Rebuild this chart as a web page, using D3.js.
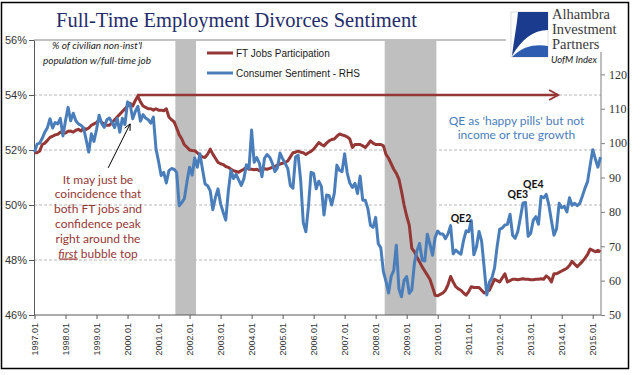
<!DOCTYPE html>
<html>
<head>
<meta charset="utf-8">
<script src="https://cdn.jsdelivr.net/npm/d3@7"></script>
<style>
  body { margin: 0; background: #fff; }
  svg { display: block; }
</style>
</head>
<body>
<div id="chart"></div>
<script>
const w = 641
const h = 375

// monthly, Jan 1997 .. Apr 2015
const startYear = 1997
const ftJobs = [
  51.9, 51.9, 51.96, 52.2, 52.25, 52.35, 52.46, 52.5, 52.55, 52.57, 52.65, 52.6,
  52.62, 52.68, 52.69, 52.65, 52.72, 52.75, 52.69, 52.8, 52.75, 52.8, 52.9, 52.95,
  53.0, 53.1, 53.0, 52.95, 52.9, 52.9, 53.0, 53.1, 53.2, 53.3, 53.4, 53.5,
  53.6, 53.7, 53.6, 53.8, 53.96, 53.75, 53.6, 53.55, 53.5, 53.5, 53.45, 53.5,
  53.45, 53.45, 53.43, 53.5, 53.2, 53.1, 53.03, 52.8, 52.55, 52.4, 52.19, 52.1,
  52.0, 51.98, 51.97, 51.9, 51.8, 51.75, 51.73, 51.85, 52.03, 51.85, 51.7, 51.55,
  51.5, 51.47, 51.4, 51.37, 51.3, 51.25, 51.22, 51.19, 51.25, 51.3, 51.37, 51.3,
  51.3, 51.28, 51.3, 51.25, 51.28, 51.32, 51.3, 51.33, 51.37, 51.4, 51.45, 51.49,
  51.52, 51.55, 51.6, 51.75, 51.9, 51.92, 51.96, 51.92, 51.9, 51.84, 51.9, 51.95,
  52.03, 52.15, 52.27, 52.2, 52.15, 52.25, 52.33, 52.38, 52.4, 52.5, 52.58, 52.55,
  52.52, 52.48, 52.4, 52.09, 52.2, 52.2, 52.2, 52.15, 52.09, 52.2, 52.33, 52.25,
  52.2, 52.2, 52.2, 52.15, 51.84, 51.7, 51.5, 51.3, 51.15, 50.94, 50.5, 50.0,
  49.6, 49.27, 48.42, 48.3, 48.1, 47.93, 47.75, 47.6, 47.45, 47.3, 47.02, 46.72,
  46.7, 46.75, 46.8, 46.9, 47.1, 47.4, 47.2, 47.03, 46.95, 46.9, 46.8, 46.72,
  46.85, 47.03, 47.0, 47.0, 47.0, 46.9, 46.8, 46.85, 46.9, 47.1, 47.3, 47.25,
  47.2, 47.35, 47.5, 47.2, 47.25, 47.3, 47.3, 47.28, 47.3, 47.32, 47.3, 47.3,
  47.28, 47.28, 47.3, 47.3, 47.32, 47.3, 47.42, 47.35, 47.2, 47.5, 47.5, 47.55,
  47.6, 47.65, 47.7, 47.8, 47.95, 47.85, 47.76, 47.85, 47.95, 48.07, 48.2, 48.4,
  48.35, 48.3, 48.35, 48.3
]
const sentiment = [
  97.4, 99.7, 100.0, 101.4, 103.2, 104.5, 107.1, 104.4, 106.0, 105.6, 107.2, 102.1,
  106.6, 110.4, 106.5, 108.7, 106.5, 105.6, 105.2, 104.4, 100.9, 97.4, 102.7, 100.5,
  103.9, 108.1, 105.7, 104.6, 106.8, 107.3, 106.0, 104.5, 107.2, 103.2, 107.2, 105.4,
  112.0, 111.3, 107.1, 109.2, 110.7, 106.4, 108.3, 107.3, 106.8, 105.8, 107.6, 98.4,
  94.7, 90.6, 91.5, 88.4, 92.0, 92.6, 92.4, 91.5, 81.8, 82.7, 83.9, 88.8,
  93.0, 90.7, 95.7, 93.0, 96.9, 92.4, 88.1, 87.6, 86.1, 80.6, 84.2, 86.7,
  82.4, 79.9, 77.6, 86.0, 92.1, 89.7, 90.9, 89.3, 87.7, 89.6, 93.7, 92.6,
  103.8, 94.4, 95.8, 94.2, 90.2, 95.6, 96.7, 95.9, 94.2, 91.7, 92.8, 97.1,
  95.5, 94.1, 92.6, 87.7, 86.9, 96.0, 96.5, 89.1, 76.9, 74.2, 81.6, 91.5,
  91.2, 86.7, 88.9, 87.4, 79.1, 84.9, 84.7, 82.0, 85.4, 93.6, 92.1, 91.7,
  96.9, 91.3, 88.4, 87.1, 88.3, 85.3, 90.4, 83.4, 83.4, 80.9, 76.1, 75.5,
  78.4, 70.8, 69.5, 62.6, 59.8, 56.4, 61.2, 63.0, 70.3, 57.6, 55.3, 60.1,
  61.2, 56.3, 57.3, 65.1, 68.7, 70.8, 66.0, 65.7, 73.5, 70.6, 67.4, 72.5,
  74.4, 73.6, 73.6, 72.2, 73.6, 76.0, 67.8, 68.9, 68.2, 67.7, 71.6, 74.5,
  74.2, 77.5, 67.5, 69.8, 74.3, 71.5, 63.7, 55.8, 59.5, 60.8, 63.7, 69.9,
  75.0, 75.3, 76.2, 76.4, 79.3, 73.2, 72.3, 74.3, 78.3, 82.6, 82.7, 72.9,
  73.8, 77.6, 78.6, 76.4, 84.5, 84.1, 85.1, 82.1, 77.5, 73.2, 75.1, 82.5,
  81.2, 81.6, 80.0, 84.1, 81.9, 82.5, 81.8, 82.5, 84.6, 86.9, 88.8, 93.6,
  98.1, 95.4, 93.0, 95.9
]
const xTicks = ['1997.01', '1998.01', '1999.01', '2000.01', '2001.01', '2002.01', '2003.01',
  '2004.01', '2005.01', '2006.01', '2007.01', '2008.01', '2009.01', '2010.01', '2011.01',
  '2012.01', '2013.01', '2014.01', '2015.01']
const leftTicks = [46, 48, 50, 52, 54, 56]
const rightTicks = [50, 60, 70, 80, 90, 100, 110, 120]
const recessions = [['2001.07', '2002.03'], ['2008.04', '2009.12']]
const qeLabels = [['QE2', '2010.10', 77.2], ['QE3', '2012.08', 84.1], ['QE4', '2013.02', 87.0]]

const red = '#953735'
const blue = '#4a7ebb'

function monthIndex(s) {
  const p = s.split('.')
  return (+p[0] - startYear) * 12 + (+p[1] - 1)
}

const svg = d3.select('#chart')
  .append('svg')
  .attr('width', w)
  .attr('height', h)

svg.append('rect').attr('width', w).attr('height', h).attr('fill', '#fff')

const xScale = d3.scaleLinear().domain([0, sentiment.length - 1]).range([34.5, 600.5])
const yLeft = d3.scaleLinear().domain([46, 56]).range([315, 40])
const yRight = d3.scaleLinear().domain([50, 130]).range([315, 40])

// gridlines
svg.append('g')
  .selectAll('line')
  .data(leftTicks.filter(d => d > 46 && d < 56))
  .enter()
  .append('line')
  .attr('x1', 34).attr('x2', 601)
  .attr('y1', d => yLeft(d)).attr('y2', d => yLeft(d))
  .attr('stroke', '#a6a6a6')
  .attr('stroke-dasharray', '3,2')
  .attr('stroke-width', 0.8)

svg.append('line')
  .attr('x1', 34).attr('x2', 601)
  .attr('y1', yLeft(56)).attr('y2', yLeft(56))
  .attr('stroke', '#868686')

// recession shading
svg.append('g')
  .selectAll('rect')
  .data(recessions)
  .enter()
  .append('rect')
  .attr('x', d => xScale(monthIndex(d[0]) + 0.5))
  .attr('width', d => xScale(monthIndex(d[1]) + 0.5) - xScale(monthIndex(d[0]) + 0.5))
  .attr('y', yLeft(56))
  .attr('height', yLeft(46) - yLeft(56))
  .attr('fill', '#bfbfbf')

// axes
const xAxis = d3.axisBottom(xScale)
  .tickValues(xTicks.map(monthIndex))
  .tickFormat((d, i) => xTicks[i])
  .tickSize(4)
  .tickSizeOuter(0)

const gx = svg.append('g')
  .attr('transform', 'translate(0,' + yLeft(46) + ')')
  .call(xAxis)
gx.select('.domain').attr('stroke', '#595959').attr('d', 'M34,0H601')
gx.selectAll('.tick line').attr('stroke', '#595959')
gx.selectAll('.tick text')
  .attr('transform', 'rotate(-90)')
  .attr('x', -8).attr('y', 0).attr('dy', '0.33em')
  .style('text-anchor', 'end')
  .style('font-family', 'Liberation Sans, Arial, sans-serif')
  .style('font-size', '9px')
  .attr('fill', '#333')

const yAxisL = d3.axisLeft(yLeft)
  .tickValues(leftTicks)
  .tickFormat(d => d + '%')
  .tickSize(5)
  .tickSizeOuter(0)
const gl = svg.append('g')
  .attr('transform', 'translate(34,0)')
  .call(yAxisL)
gl.select('.domain').attr('stroke', '#595959')
gl.selectAll('.tick line').attr('stroke', '#595959')
gl.selectAll('.tick text')
  .attr('x', -7)
  .style('font-family', 'Liberation Sans, Arial, sans-serif')
  .style('font-size', '11px')
  .attr('fill', '#333')

const yAxisR = d3.axisRight(yRight)
  .tickValues(rightTicks)
  .tickSize(4)
  .tickSizeOuter(0)
const gr = svg.append('g')
  .attr('transform', 'translate(601,0)')
  .call(yAxisR)
gr.select('.domain').attr('stroke', '#7f7f7f').attr('d', 'M0,52V315')
gr.selectAll('.tick line').attr('stroke', '#7f7f7f')
gr.selectAll('.tick text')
  .attr('x', 8)
  .style('font-family', 'Liberation Serif, Times New Roman, serif')
  .style('font-size', '12px')
  .attr('fill', '#333')

// series
const ftLine = d3.line().x((d, i) => xScale(i)).y(d => yLeft(d))
const csLine = d3.line().x((d, i) => xScale(i)).y(d => yRight(d))

svg.append('path')
  .datum(ftJobs)
  .attr('d', ftLine)
  .attr('fill', 'none')
  .attr('stroke', red)
  .attr('stroke-width', 3)
  .attr('stroke-linejoin', 'round')

svg.append('path')
  .datum(sentiment)
  .attr('d', csLine)
  .attr('fill', 'none')
  .attr('stroke', blue)
  .attr('stroke-width', 3)
  .attr('stroke-linejoin', 'round')

// peak arrow
const ay = yLeft(54)
const ax1 = xScale(39.7)
const ax2 = xScale(202.6)
svg.append('line')
  .attr('x1', ax1).attr('x2', ax2)
  .attr('y1', ay).attr('y2', ay)
  .attr('stroke', red).attr('stroke-width', 2.5)
svg.append('path')
  .attr('d', 'M' + (ax2 - 9) + ',' + (ay - 5) + 'L' + ax2 + ',' + ay + 'L' + (ax2 - 9) + ',' + (ay + 5))
  .attr('fill', 'none').attr('stroke', red).attr('stroke-width', 2)

// black pointer arrow
const px1 = xScale(28.5), py1 = yLeft(51.35)
const px2 = xScale(37), py2 = yLeft(52.95)
svg.append('line')
  .attr('x1', px1).attr('y1', py1).attr('x2', px2).attr('y2', py2)
  .attr('stroke', '#000').attr('stroke-width', 1)
const ang = Math.atan2(py2 - py1, px2 - px1)
const hl = 7
svg.append('path')
  .attr('d', 'M' + (px2 - hl * Math.cos(ang - 0.45)) + ',' + (py2 - hl * Math.sin(ang - 0.45)) +
    'L' + px2 + ',' + py2 +
    'L' + (px2 - hl * Math.cos(ang + 0.45)) + ',' + (py2 - hl * Math.sin(ang + 0.45)))
  .attr('fill', 'none').attr('stroke', '#000').attr('stroke-width', 1)

// annotations
const note = svg.append('text')
  .attr('text-anchor', 'middle')
  .style('font-family', 'Lato, sans-serif')
  .style('font-size', '12px')
  .attr('fill', red)
const noteLines = ['It may just be', 'coincidence  that', 'both FT jobs and', 'confidence peak', 'right around  the']
noteLines.forEach((t, i) => {
  note.append('tspan').attr('x', 98).attr('y', 183.5 + i * 14.8).text(t)
})
const last = note.append('tspan').attr('x', 98).attr('y', 183.5 + 5 * 14.8)
last.append('tspan').style('font-style', 'italic').style('text-decoration', 'underline').text('first')
last.append('tspan').text(' bubble top')

const qe = svg.append('text')
  .attr('text-anchor', 'middle')
  .style('font-family', 'Lato, sans-serif')
  .style('font-size', '12px')
  .attr('fill', blue)
qe.append('tspan').attr('x', 516.5).attr('y', 124.5).text("QE as 'happy pills' but not")
qe.append('tspan').attr('x', 516.5).attr('y', 138.5).text('income or true growth')

svg.append('g')
  .selectAll('text')
  .data(qeLabels)
  .enter()
  .append('text')
  .attr('x', d => xScale(monthIndex(d[1])))
  .attr('y', d => yRight(d[2]))
  .attr('text-anchor', 'middle')
  .style('font-family', 'Lato, sans-serif')
  .style('font-size', '10.5px')
  .style('font-weight', 'bold')
  .attr('fill', '#111')
  .text(d => d[0])

const units = svg.append('text')
  .attr('text-anchor', 'middle')
  .style('font-family', 'Lato, sans-serif')
  .style('font-size', '10px')
  .style('font-style', 'italic')
  .attr('fill', '#1a1a1a')
units.append('tspan').attr('x', 97).attr('y', 49).text("% of civilian non-inst'l")
units.append('tspan').attr('x', 97).attr('y', 64).text('population w/full-time job')

svg.append('text')
  .attr('x', 597).attr('y', 63)
  .attr('text-anchor', 'end')
  .style('font-family', 'Lato, sans-serif')
  .style('font-size', '9.5px')
  .style('font-style', 'italic')
  .attr('fill', '#1a1a1a')
  .text('UofM Index')

// legend
const legend = [['FT Jobs Participation', red], ['Consumer Sentiment - RHS', blue]]
legend.forEach((d, i) => {
  const ly = 53 + i * 20
  svg.append('line')
    .attr('x1', 207).attr('x2', 233).attr('y1', ly).attr('y2', ly)
    .attr('stroke', d[1]).attr('stroke-width', 3)
  svg.append('text')
    .attr('x', 236).attr('y', ly + 3.5)
    .style('font-family', 'Liberation Sans, Arial, sans-serif')
    .style('font-size', '10px')
    .attr('fill', '#1a1a1a')
    .text(d[0])
})

// title
svg.append('text')
  .attr('x', 56).attr('y', 27)
  .style('font-family', 'Liberation Serif, Times New Roman, serif')
  .style('font-size', '20.5px')
  .attr('fill', '#1f2d6b')
  .text('Full-Time Employment Divorces Sentiment')

// logo
const logo = svg.append('g')
logo.append('rect').attr('x', 506).attr('y', 6).attr('width', 122).attr('height', 46).attr('fill', '#fff')
logo.append('rect').attr('x', 511).attr('y', 12).attr('width', 37).attr('height', 45)
  .attr('fill', '#fff').attr('stroke', '#c8c8c8').attr('stroke-width', 0.6)
logo.append('path')
  .attr('d', 'M518,12 L548,12 L548,30 C533,30 521,40 512,56 C514,40 517,24 518,12 Z')
  .attr('fill', '#1b3c8e')
logo.append('path')
  .attr('d', 'M512,57 C523,46 535,44 548,46 L548,57 Z')
  .attr('fill', '#2e5cb0')
;['Alhambra', 'Investment', 'Partners'].forEach((t, i) => {
  logo.append('text')
    .attr('x', 552).attr('y', 19 + i * 15)
    .style('font-family', 'Liberation Serif, Times New Roman, serif')
    .style('font-size', '14.5px')
    .attr('fill', '#3a3a3a')
    .text(t)
})

// outer border
svg.append('rect')
  .attr('x', 1.5).attr('y', 2.5).attr('width', 627).attr('height', 366)
  .attr('fill', 'none').attr('stroke', '#000').attr('stroke-width', 1.5)
</script>
</body>
</html>
